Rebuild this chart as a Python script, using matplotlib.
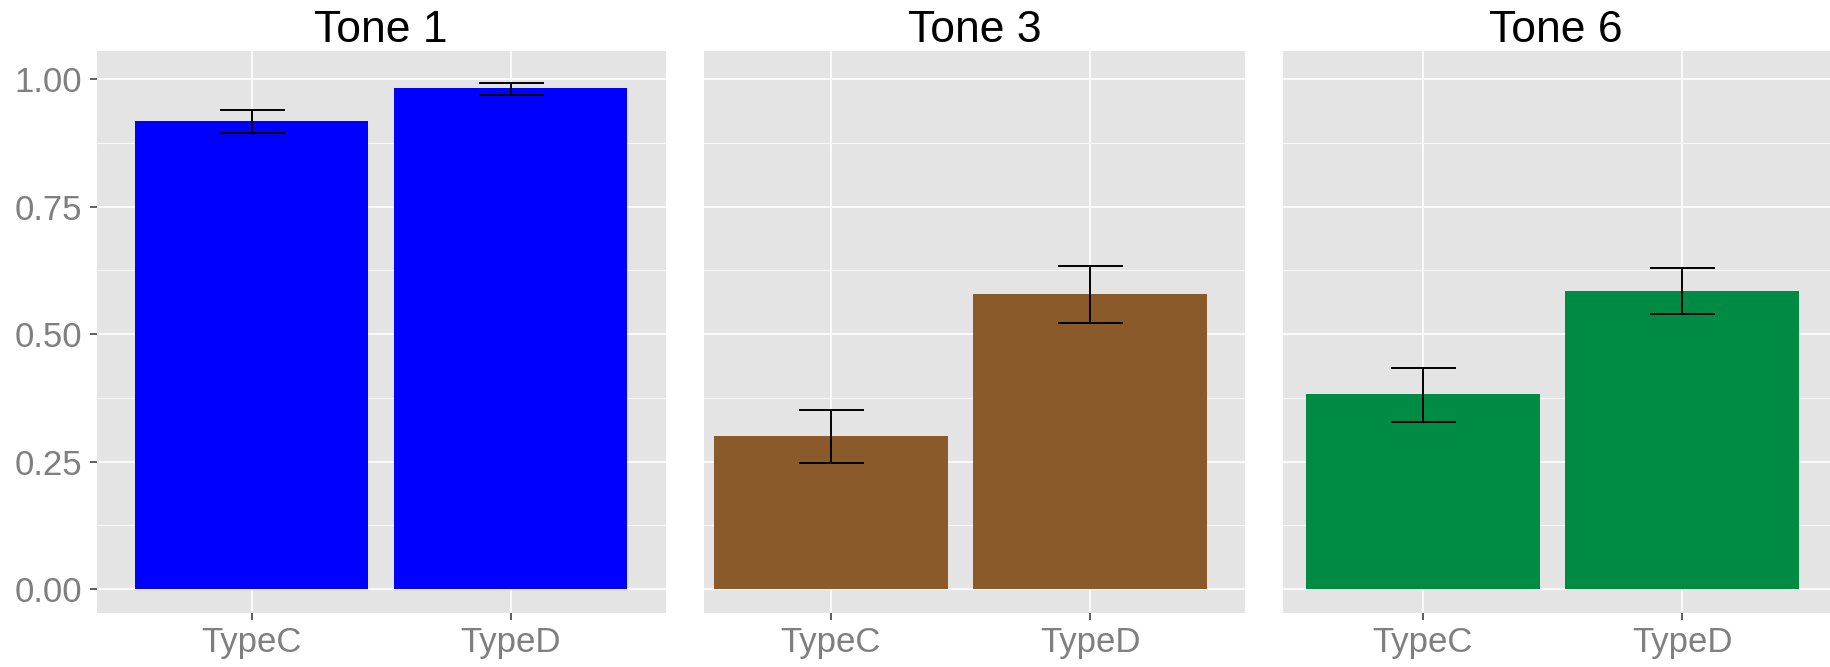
import matplotlib
matplotlib.use("Agg")
import matplotlib.pyplot as plt
import numpy as np

plt.rcParams['font.family'] = ['Liberation Sans', 'DejaVu Sans']

# ---- data ----
categories = ["TypeC", "TypeD"]
panels = ["Tone 1", "Tone 3", "Tone 6"]
means = {
    "Tone 1": [0.919, 0.983],
    "Tone 3": [0.300, 0.578],
    "Tone 6": [0.383, 0.585],
}
err_low = {
    "Tone 1": [0.895, 0.970],
    "Tone 3": [0.247, 0.521],
    "Tone 6": [0.328, 0.539],
}
err_high = {
    "Tone 1": [0.940, 0.993],
    "Tone 3": [0.351, 0.633],
    "Tone 6": [0.434, 0.629],
}
colors = {"Tone 1": "#0000FF", "Tone 3": "#8B5A2B", "Tone 6": "#008B45"}
y_ticks = [0.00, 0.25, 0.50, 0.75, 1.00]
y_ticklabels = ["0.00", "0.25", "0.50", "0.75", "1.00"]

# ---- layout ----
W, H = 1830, 667
fig = plt.figure(figsize=(W / 100, H / 100), dpi=100)

panel_px = [(96.7, 665.7), (704.0, 1245.0), (1282.6, 1830.0)]
xlims = [(0.4, 2.6), (0.512, 2.596), (0.459, 2.5705)]
top_px, bot_px = 51.3, 613.3
ylim = (-0.0477, 1.055)

bg = "#E4E4E4"
for i, name in enumerate(panels):
    l, r = panel_px[i]
    ax = fig.add_axes([l / W, 1 - bot_px / H, (r - l) / W, (bot_px - top_px) / H])
    ax.set_facecolor(bg)
    x = np.arange(1, len(categories) + 1)
    m = np.array(means[name])
    lo = np.array(err_low[name])
    hi = np.array(err_high[name])
    ax.bar(x, m, width=0.9, color=colors[name], zorder=3, linewidth=0)
    ax.errorbar(x, m, yerr=[m - lo, hi - m], fmt="none", ecolor="black",
                elinewidth=1.4, capsize=23.4, capthick=1.4, zorder=4)
    ax.set_xlim(*xlims[i])
    ax.set_ylim(*ylim)
    ax.set_xticks(x)
    ax.set_xticklabels(categories)
    ax.set_yticks(y_ticks)
    ax.set_yticks([0.125, 0.375, 0.625, 0.875], minor=True)
    ax.grid(which="major", color="white", linewidth=1.2, zorder=0)
    ax.grid(which="minor", axis="y", color="#F7F7F7", linewidth=0.8, zorder=0)
    ax.set_axisbelow(True)
    for s in ax.spines.values():
        s.set_visible(False)
    ax.tick_params(axis="both", which="major", color="#333333", width=1.1,
                   length=5, labelsize=25, labelcolor="#7F7F7F")
    ax.tick_params(axis="x", pad=4)
    ax.tick_params(axis="y", pad=5.5)
    ax.tick_params(which="minor", length=0)
    if i == 0:
        ax.set_yticklabels(y_ticklabels)
    else:
        ax.tick_params(axis="y", which="both", left=False, labelleft=False)
    ax.set_title(name, fontsize=32, color="black", pad=5.8)

fig.savefig("out.png", dpi=100, facecolor="white")
